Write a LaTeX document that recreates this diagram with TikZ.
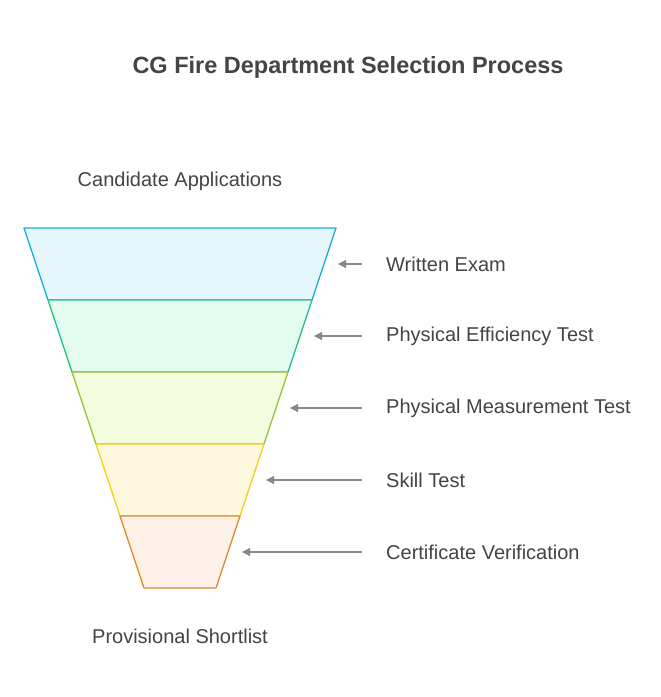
\documentclass[tikz,border=0pt]{standalone}
\usepackage{fontspec}
\setmainfont{Liberation Sans}
\usetikzlibrary{arrows.meta}
\definecolor{txt}{HTML}{444444}
\definecolor{arr}{HTML}{8A8A8A}
\begin{document}
\begin{tikzpicture}[x=1pt,y=-1pt]
	\tikzset{
	band/.style={line width=1.3pt, line join=round},
	lbl/.style={anchor=west, inner sep=0pt, text=txt, font=\fontsize{20}{24}\selectfont},
	arrow/.style={-{Triangle[length=8pt,width=8pt]}, arr, line width=1.2pt}}

	\useasboundingbox[fill=white] (0,0) rectangle (661,697);

	\node[text=txt, font=\bfseries\fontsize{23.5}{28}\selectfont] (title) at (348,67) {CG Fire Department Selection Process};
	\node[text=txt, font=\fontsize{20}{24}\selectfont] (top) at (180,181) {Candidate Applications};
	\node[text=txt, font=\fontsize{20}{24}\selectfont] (bottom) at (180,636) {Provisional Shortlist};

	%funnel bands
	\foreach \i/\fc/\dc/\name in {0/E6F7FC/1AAFD0/Written Exam,
		1/E3FCEF/2CC08A/Physical Efficiency Test,
		2/F3FCDF/97C23A/Physical Measurement Test,
		3/FEF9DE/F0D020/Skill Test,
		4/FDF1E8/E08A2E/Certificate Verification}{
		\definecolor{fc}{HTML}{\fc}
		\definecolor{dc}{HTML}{\dc}
		\pgfmathsetmacro{\ya}{228+72*\i}
		\pgfmathsetmacro{\yb}{300+72*\i}
		\pgfmathsetmacro{\xa}{24+24*\i}
		\draw[band, fill=fc, draw=dc] (\xa,\ya) -- (\xa+24,\yb) -- (336-24*\i-24,\yb) -- (336-24*\i,\ya) -- cycle;
		\node[lbl] (l\i) at (386,\ya+36) {\name};
		\coordinate (t\i) at (338-24*\i,\ya+36);
		\draw[arrow] (362,\ya+36) -- (t\i);
	}
\end{tikzpicture}
\end{document}
